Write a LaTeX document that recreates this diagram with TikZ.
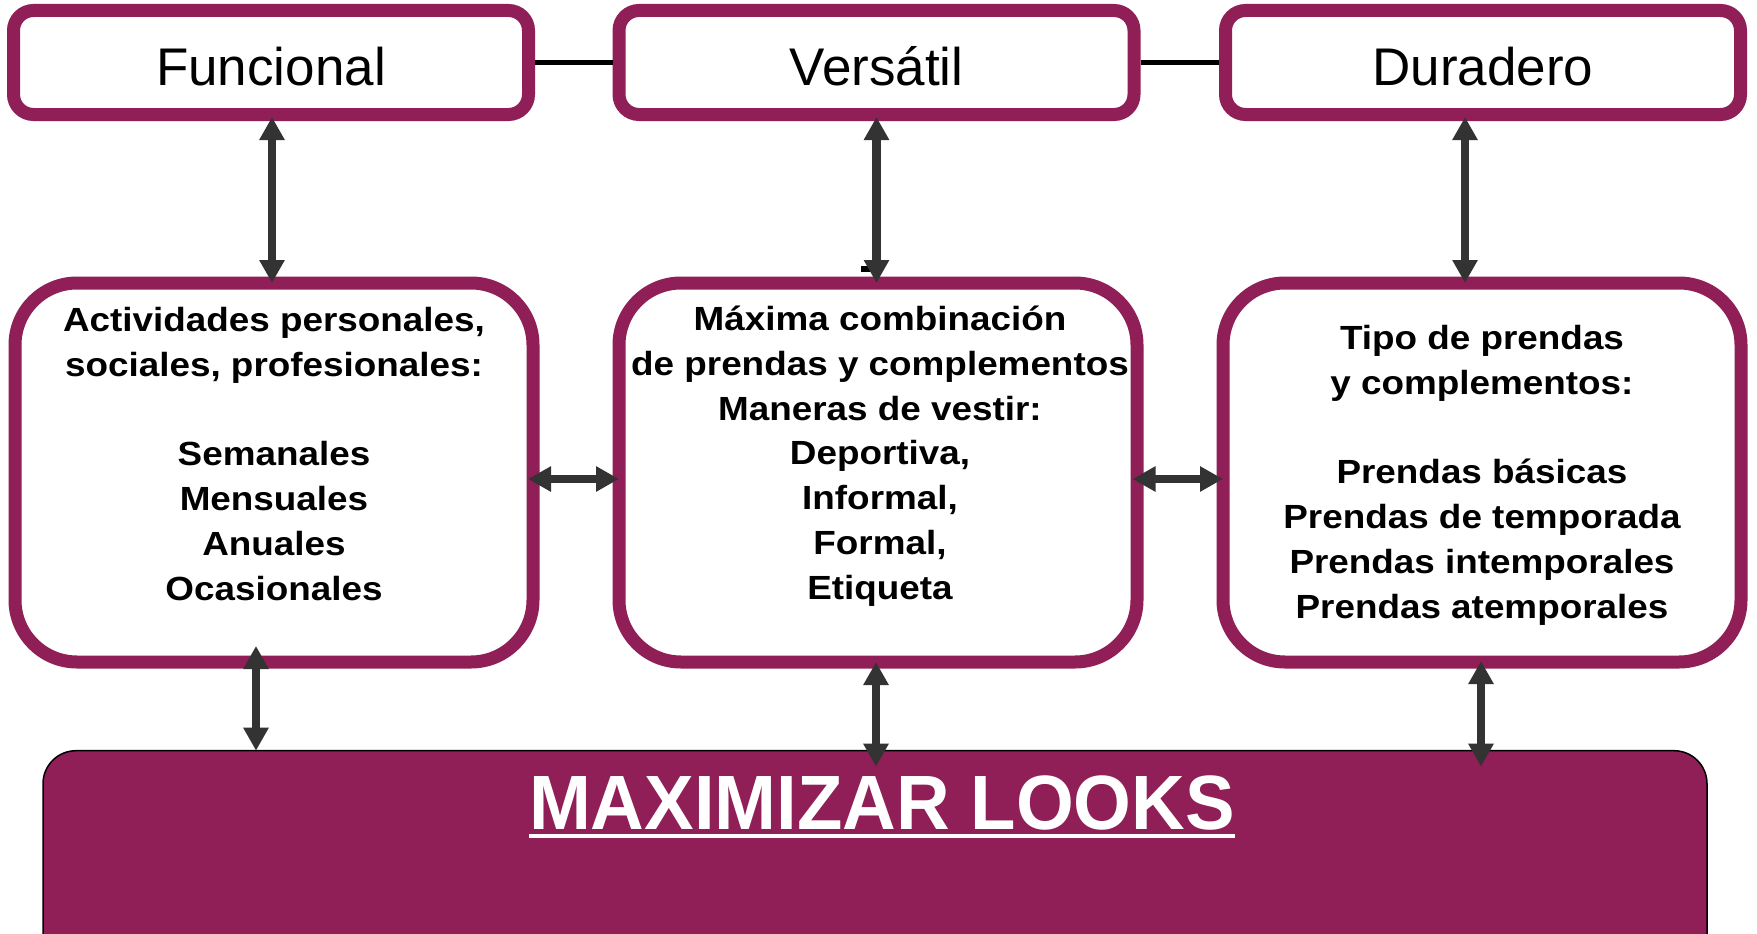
\documentclass[tikz,border=0pt]{standalone}
\usepackage{fontspec}
\setmainfont{Liberation Sans}
\newfontfamily\widebold[FakeStretch=1.1]{Liberation Sans}
\newfontfamily\narrowbold[FakeStretch=0.965]{Liberation Sans}
\usetikzlibrary{arrows.meta,calc}
\definecolor{plum}{RGB}{144,31,87}
\definecolor{arrowgray}{RGB}{51,51,51}
\tikzset{
  headbox/.style={draw=plum, fill=white, line width=13pt, rounded corners=20pt,
    minimum width=515pt, minimum height=104pt, inner sep=0pt, outer sep=0pt,
    font=\fontsize{53}{60}\selectfont, text height=45pt, text depth=0pt},
  infobox/.style={draw=plum, fill=white, line width=13pt, rounded corners=62pt,
    minimum width=518pt, minimum height=379pt, inner sep=0pt, outer sep=0pt},
  infotext/.style={align=center, inner sep=0pt,
    font=\widebold\bfseries\fontsize{33.5}{44.8}\selectfont},
  goalbox/.style={draw=black, fill=plum, line width=1.5pt, rounded corners=33pt,
    minimum width=1664pt, minimum height=250pt, inner sep=0pt, outer sep=0pt},
  goaltext/.style={anchor=base, inner sep=0pt, text=white,
    font=\narrowbold\bfseries\fontsize{77}{80}\selectfont},
  twoway/.style={arrowgray, line width=8.7pt,
    {Triangle[length=23pt,width=24pt]}-{Triangle[length=23pt,width=24pt]}},
  tieline/.style={black, line width=4.5pt, shorten <=6.5pt, shorten >=6.5pt}
}
\begin{document}
\begin{tikzpicture}[x=1pt,y=-1pt]
        \useasboundingbox (0,0) rectangle (1757,934);
        \fill[white] (0,0) rectangle (1757,934);
        \clip (0,0) rectangle (1757,934);

        \node[headbox] (fun) at (271,62.5) {Funcional};
        \node[headbox] (ver) at (876.5,62.5) {Versátil};
        \node[headbox] (dur) at (1483,62.5) {Duradero};
        \draw[tieline] (fun.east) -- (ver.west);
        \draw[tieline] (ver.east) -- (dur.west);

        \node[infobox] (act) at (274,472.5) {};
        \node[infobox] (comb) at (878,472.5) {};
        \node[infobox] (tipo) at (1482,472.5) {};

        \node[infotext] (acttxt) at (274,453.75) {Actividades personales,\\sociales, profesionales:\\[44.8pt]Semanales\\Mensuales\\Anuales\\Ocasionales};
        \node[infotext] (combtxt) at (880,456) {Máxima combinación\\ de prendas y complementos\\Maneras de vestir:\\Deportiva,\\Informal,\\Formal,\\ Etiqueta};
        \node[infotext] (tipotxt) at (1482,475) {Tipo de prendas\\y complementos:\\[44.8pt]Prendas básicas\\Prendas de temporada\\Prendas intemporales\\Prendas atemporales};

        \node[goalbox] (looks) at (875,875.7) {};
        \node[goaltext] (lookstxt) at (882,829) {MAXIMIZAR LOOKS};
        \draw[white, line width=4.5pt] ($(lookstxt.base west)+(0,7)$) -- ($(lookstxt.base east)+(0,7)$);

        \fill[black] (861,266) rectangle (878,272);

        \draw[twoway] ($(fun.south)+(1,2.5)$) -- ($(fun.south |- act.north)+(1,0)$);
        \draw[twoway] ($(ver.south)+(0,2.5)$) -- (ver.south |- comb.north);
        \draw[twoway] ($(dur.south)+(-18,2.5)$) -- ($(dur.south |- tipo.north)+(-18,0)$);

        \draw[twoway] ($(act.east)+(-5,6.5)$) -- ($(comb.west)+(0,6.5)$);
        \draw[twoway] ($(comb.east)+(-4.5,6.5)$) -- ($(tipo.west)+(0,6.5)$);

        \draw[twoway] ($(act.south)+(-18,-16)$) -- ($(act.south |- looks.north)+(-18,0)$);
        \draw[twoway] ($(comb.south)+(-2,0)$) -- ($(comb.south |- looks.north)+(-2,16)$);
        \draw[twoway] ($(tipo.south)+(-1,-1)$) -- ($(tipo.south |- looks.north)+(-1,16)$);
      \end{tikzpicture}
\end{document}
